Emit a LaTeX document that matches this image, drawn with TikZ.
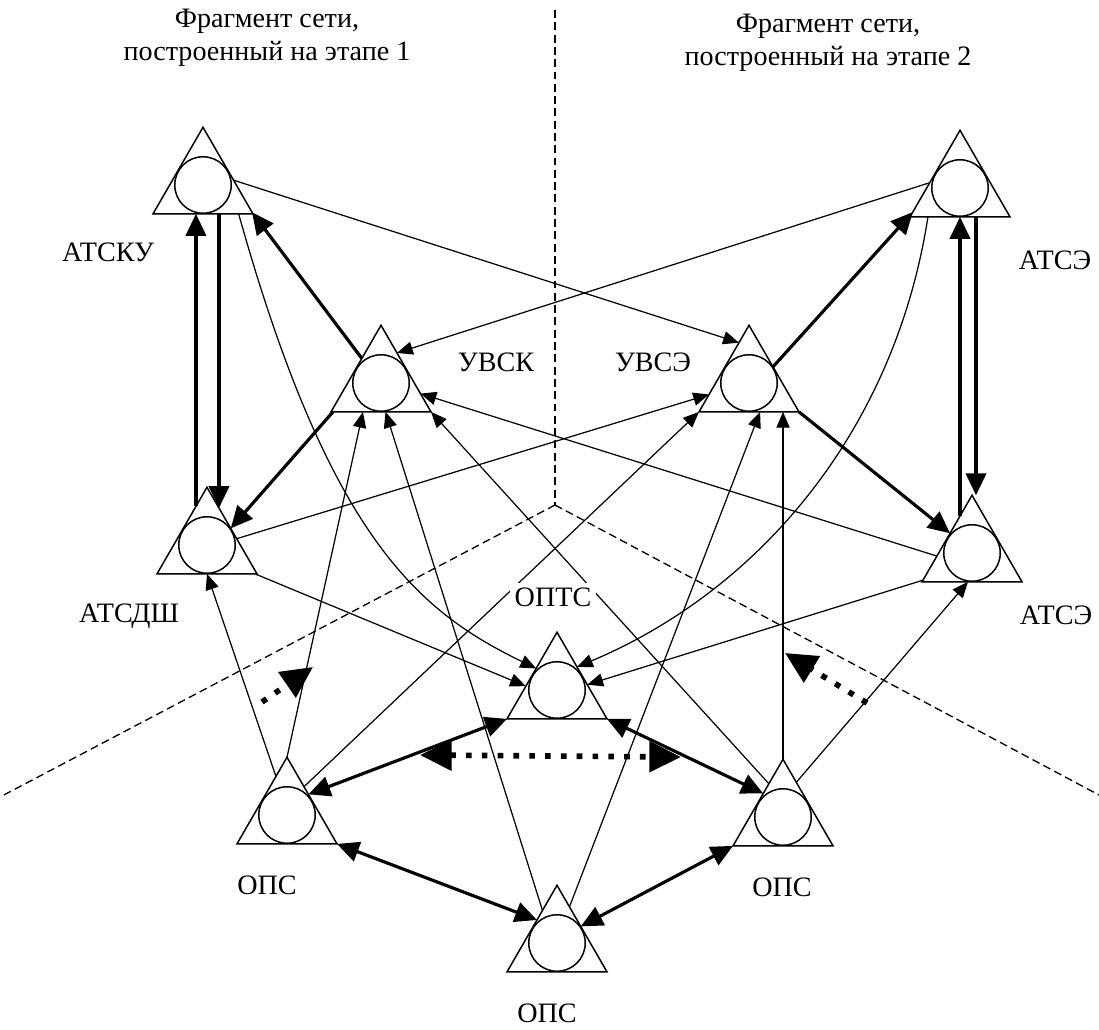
\documentclass[tikz,border=0pt]{standalone}
\usepackage{fontspec}
\setmainfont{Liberation Serif}
\usepackage{tikz}
\usetikzlibrary{shapes.geometric,arrows.meta,positioning}

\begin{document}
\begin{tikzpicture}[x=0.02cm, y=-0.02cm,
    stn/.style={draw, regular polygon, regular polygon sides=3, minimum size=2.31cm,
      inner sep=0pt, outer sep=0pt, line width=0.85pt,
      label={[draw, circle, minimum size=1.13cm, inner sep=0pt, line width=0.85pt]center:{}}},
    lbl/.style={font=\fontsize{16}{19}\selectfont, inner sep=2.5pt, text depth=0pt},
    ttl/.style={font=\fontsize{16}{19}\selectfont, align=center, inner sep=0pt},
    link/.style={line width=0.7pt, -{Triangle[length=9pt,width=7.5pt]}},
    trunk/.style={line width=1.8pt, -{Triangle[length=12.5pt,width=11.5pt]}},
    trunk2/.style={line width=1.8pt, {Triangle[length=12.5pt,width=11.5pt]}-{Triangle[length=12.5pt,width=11.5pt]}},
    flow/.style={line width=3.2pt, dash pattern=on 3.2pt off 5.8pt, -{Triangle[length=18pt,width=17pt]}},
    flow2/.style={line width=3.2pt, dash pattern=on 3.2pt off 5.8pt, {Triangle[length=18pt,width=17pt]}-{Triangle[length=18pt,width=17pt]}},
    zone/.style={line width=0.75pt, dash pattern=on 4.5pt off 2.5pt}]
    \useasboundingbox (0,0) rectangle (1099,1029);

    % Zones
    \coordinate (mid) at (555,505);
    \draw [zone] (555,10) -- (mid);
    \draw [zone] (mid) -- (0,797);
    \draw [zone] (mid) -- (1099,795);

    % Titles
    \node [ttl] (title1) at (267,38) {Фрагмент сети,\\построенный на этапе 1};
    \node [ttl] (title2) at (828,43) {Фрагмент сети,\\построенный на этапе 2};

    % Stations
    \node [stn] (atsku) at (203,185) {};
    \node [stn] (atse1) at (960,188) {};
    \node [stn] (uvsk) at (381,383) {};
    \node [stn] (uvse) at (749,383) {};
    \node [stn] (atsdsh) at (207,545) {};
    \node [stn] (atse2) at (972,553) {};
    \node [stn] (opts) at (557,690) {};
    \node [stn] (opsl) at (287,815) {};
    \node [stn] (opsr) at (783,817) {};
    \node [stn] (opsb) at (557,943) {};

    % Vertical pairs
    \draw [trunk] (atsdsh.106) -- (atsdsh.106 |- atsku.side 2);
    \draw [trunk] (atsku.-61) -- (atsku.-61 |- atsdsh.72);
    \draw [trunk] (atse2.108) -- (atse2.108 |- atse1.side 2);
    \draw [trunk] (atse1.-61) -- (atse1.-61 |- atse2.corner 1);

    % UVSK and UVSE outputs
    \draw [trunk] (uvsk.128) -- (atsku.-29);
    \draw [trunk] (uvsk.211) -- (atsdsh.35);
    \draw [trunk] (uvse.34) -- (atse1.207);
    \draw [trunk] (uvse.corner 3) -- (atse2.138);

    % Thin links
    \draw [link] (atsku.9) -- (uvse.104);
    \draw [link] (atse1.170) -- (uvsk.62);
    \draw [link] (atsdsh.12) -- (uvse.196);
    \draw [link] (atse2.185) -- (uvsk.-15);
    \draw [link] (atsdsh.-31) -- (opts.173);
    \draw [link] (atse2.209) -- (opts.10);
    \draw [link] (atsku.-39) .. controls (330,540) and (420,612) .. (opts.134);
    \draw [link] (atse1.222) .. controls (895,430) and (760,590) .. (opts.49);
    \draw [link] (opsl.corner 1) -- (uvsk.-122);
    \draw [link] (opsb.114) -- (uvsk.-81);
    \draw [link] (opsb.71) -- (uvse.-69);
    \draw [link] (opsr.corner 1) -- (opsr.corner 1 |- uvse.side 2);
    \draw [link] (opsl.59) -- (uvse.corner 2);
    \draw [link] (opsr.113) -- (uvsk.corner 3);
    \draw [link] (opsl.106) -- (atsdsh.side 2);
    \draw [link] (opsr.69) -- (atse2.-98);

    % OPS ring
    \draw [trunk2] (opsl.44) -- (opts.corner 2);
    \draw [trunk2] (opts.corner 3) -- (opsr.130);
    \draw [trunk2] (opsl.corner 3) -- (opsb.131);
    \draw [trunk2] (opsr.corner 2) -- (opsb.35);

    % Growth arrows
    \coordinate (fl0) at (262,702);
    \coordinate (fl1) at (313,667);
    \coordinate (fr0) at (867,703);
    \coordinate (fr1) at (785,653);
    \coordinate (fc0) at (420,755);
    \coordinate (fc1) at (681,757);
    \draw [flow] (fl0) -- (fl1);
    \draw [flow] (fr0) -- (fr1);
    \draw [flow2] (fc0) -- (fc1);

    % Labels
    \node [lbl] (atsku-l) at (108,252) {АТСКУ};
    \node [lbl] (atse1-l) at (1055,260) {АТСЭ};
    \node [lbl] (uvsk-l) at (496,362) {УВСК};
    \node [lbl] (uvse-l) at (653,362) {УВСЭ};
    \node [lbl] (atsdsh-l) at (129,613) {АТСДШ};
    \node [lbl] (atse2-l) at (1056,615) {АТСЭ};
    \node [lbl, fill=white] (opts-l) at (553,597) {ОПТС};
    \node [lbl] (opsl-l) at (267,885) {ОПС};
    \node [lbl] (opsr-l) at (782,887) {ОПС};
    \node [lbl] (opsb-l) at (547,1013) {ОПС};
\end{tikzpicture}
\end{document}
